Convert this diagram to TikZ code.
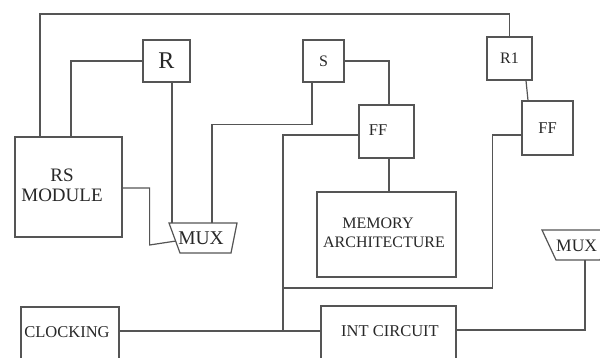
\documentclass[tikz,border=0pt]{standalone}
\usepackage{fontspec}
\setmainfont{Liberation Serif}
\definecolor{lc}{RGB}{85,85,85}
\definecolor{tc}{RGB}{40,40,40}
\begin{document}
\begin{tikzpicture}[x=1pt,y=-1pt,
  box/.style={draw=lc, line width=1.2pt, rectangle, inner sep=0pt},
  muxshape/.style={draw=lc, line width=1.2pt, line join=miter},
  lab/.style={text=tc, inner sep=0pt, align=center},
  wire/.style={draw=lc, line width=1.2pt}]
\useasboundingbox (0,0) rectangle (600,358);
\clip (0,0) rectangle (600,358);
\fill[white] (0,0) rectangle (600,358);

% boxes
\node[box, minimum width=107, minimum height=100] (rs) at (68.5,187) {};
\node[lab, font=\fontsize{19}{20}\selectfont] at (62,185) {RS\\MODULE};
\node[box, minimum width=47, minimum height=42, font=\fontsize{24}{24}\selectfont, text=tc] (r) at (166.5,61) {R};
\node[box, minimum width=41, minimum height=42, font=\fontsize{16}{16}\selectfont, text=tc] (s) at (323.5,61) {S};
\node[box, minimum width=45, minimum height=43, font=\fontsize{16}{16}\selectfont, text=tc] (r1) at (509.5,58.5) {R1};
\node[box, minimum width=55, minimum height=53] (ff1) at (386.5,131.5) {};
\node[lab, font=\fontsize{16.5}{16.5}\selectfont] at (378,130) {FF};
\node[box, minimum width=51, minimum height=54, font=\fontsize{16.5}{16.5}\selectfont, text=tc] (ff2) at (547.5,128) {FF};
\node[box, minimum width=139, minimum height=85] (mem) at (386.5,234.5) {};
\node[lab, font=\fontsize{16}{19}\selectfont] at (384,233) {\hspace*{-12pt}MEMORY\\ARCHITECTURE};
\node[box, minimum width=135, minimum height=64] (int) at (388.5,338) {};
\node[lab, font=\fontsize{16.5}{16.5}\selectfont] at (390,331) {INT CIRCUIT};
\node[box, minimum width=98, minimum height=63] (clk) at (70,338.5) {};
\node[lab, font=\fontsize{16.5}{16.5}\selectfont] at (67,332) {CLOCKING};

% multiplexers
\draw[muxshape] (169,223) -- (237,223) -- (231,253) -- (180,253) -- cycle;
\node[lab, font=\fontsize{19.5}{19.5}\selectfont] (muxl) at (201,238) {MUX};
\draw[muxshape] (542,230) -- (614,230) -- (600,260) -- (556,260) -- cycle;
\node[lab, font=\fontsize{17.5}{17.5}\selectfont, anchor=west] (muxr) at (556,246) {MUX};

% helper coordinates
\coordinate (t1) at (40,14);
\coordinate (xa) at (71,0);
\coordinate (j1) at (283,288);
\coordinate (j2) at (283,332);
\coordinate (mlr) at (172,223);
\coordinate (mls) at (212,223);
\coordinate (mlin) at (176,241);
\coordinate (mrout) at (585,260);

% connectors
\draw[wire] (rs.north -| t1) -- (t1) -| (r1.north);
\draw[wire] (r.west) -| (rs.north -| xa);
\draw[wire] ([xshift=5.5]r.south) -- (mlr);
\draw[wire] ([xshift=-11.5]s.south) -- ++(0,42) -| (mls);
\draw[wire] (s.east) -| ([xshift=2.5]ff1.north);
\draw[wire] ([yshift=-1]rs.east) -| ++(27,57) -- (mlin);
\draw[wire] ([xshift=16.5]r1.south) -- ([xshift=-19.5]ff2.north);
\draw[wire] ([yshift=-7]ff2.west) -- ++(-29,0) |- (j1);
\draw[wire] ([yshift=-3.5]ff1.west) -| (j2);
\draw[wire] ([yshift=7.5]clk.east) -- ([yshift=7]int.west);
\draw[wire] ([xshift=2.5]ff1.south) -- ([xshift=2.5]ff1.south |- mem.north);
\draw[wire] (mrout) |- ([yshift=8]int.east);
\end{tikzpicture}
\end{document}
